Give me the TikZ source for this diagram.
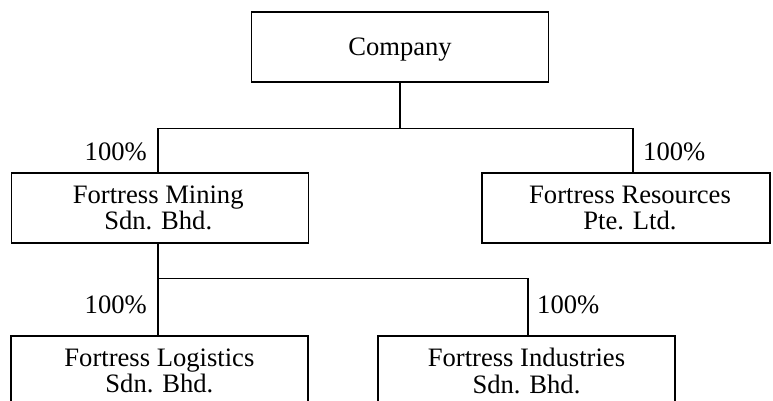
\documentclass[tikz,border=0pt]{standalone}
\usepackage{fontspec}
\setmainfont{Liberation Serif}
\usetikzlibrary{calc}
\begin{document}
\begin{tikzpicture}[x=1pt,y=1pt,
  every node/.style={font=\fontsize{26.6}{26.6}\selectfont},
  box/.style={draw, line width=1.2pt, minimum width=297, minimum height=70, inner sep=0pt, align=center},
  pct/.style={inner sep=0pt},
  conn/.style={line width=1.2pt}]
\useasboundingbox (0,0) rectangle (773,-400);
\begin{scope}
\clip (0,0) rectangle (773,-400);
\node[box, text depth=0pt] (company) at (400,-47) {Company};
\node[box] (mining) at (160,-208) {\hspace*{-3.5pt}Fortress Mining\\\hspace*{-3.5pt}Sdn. Bhd.};
\node[box, minimum width=288] (resources) at (626,-208) {};
\node[align=center, inner sep=0pt] (restext) at (630,-208) {Fortress Resources\\Pte. Ltd.};
\node[box] (logistics) at (159.4,-371) {Fortress Logistics\\Sdn. Bhd.};
\node[box] (industries) at (526.5,-371) {Fortress Industries\\Sdn. Bhd.};

\coordinate (j1) at ($(company.south)+(0,-46)$);
\coordinate (mtop) at ($(mining.north)+(-2,0)$);
\coordinate (rtop) at ($(resources.north)+(7,0)$);
\draw[conn] (company.south) -- (j1);
\draw[conn] (j1) -| (mtop);
\draw[conn] (j1) -| (rtop);

\coordinate (mbot) at ($(mining.south)+(-2,0)$);
\coordinate (j2) at ($(mbot)+(0,-35)$);
\coordinate (ltop) at ($(logistics.north)+(-1.4,0)$);
\coordinate (itop) at ($(industries.north)+(1.5,0)$);
\draw[conn] (mbot) -- (ltop);
\draw[conn] (j2) -| (itop);

\node[pct, anchor=base east] (p1) at (147,-160.5) {100\%};
\node[pct, anchor=base west] (p2) at (643,-160.5) {100\%};
\node[pct, anchor=base east] (p3) at (147,-313.3) {100\%};
\node[pct, anchor=base west] (p4) at (537,-313.3) {100\%};
\end{scope}
\end{tikzpicture}
\end{document}
